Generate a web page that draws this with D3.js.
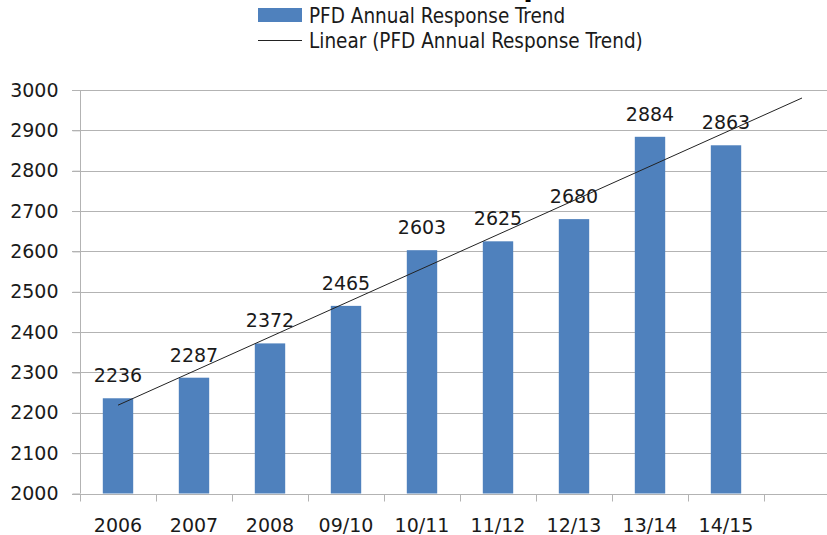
<!DOCTYPE html>
<html><head><meta charset="utf-8">
<script src="https://cdn.jsdelivr.net/npm/d3@7"></script>
<style>
html,body{margin:0;padding:0;background:#fff;}
svg{display:block;}
</style></head>
<body>
<svg id="chart" width="827" height="535"></svg>
<script>
const categories = ["2006","2007","2008","09/10","10/11","11/12","12/13","13/14","14/15"];
const values = [2236,2287,2372,2465,2603,2625,2680,2884,2863];
const yTicks = [2000,2100,2200,2300,2400,2500,2600,2700,2800,2900,3000];
const seriesName = "PFD Annual Response Trend";
const trendName = "Linear (PFD Annual Response Trend)";
const forecastPeriods = 1;

const svg = d3.select("#chart");
const font = "'DejaVu Sans', sans-serif";
const legendFont = "'DejaVu Sans Condensed', sans-serif";
const gridColor = "#b3b3b3";
const barColor = "#4f81bd";
const textColor = "#1a1a1a";

const slots = categories.concat(d3.range(forecastPeriods).map((d,i)=>"__f"+i));
const x = d3.scaleBand().domain(slots).range([80, 840]).paddingInner(0.6).paddingOuter(0.3);
const step = x.step();
const y = d3.scaleLinear().domain([2000, 3000]).range([493.5, 90]);

// title (mostly cut off at the top)
svg.append("text").attr("x", 466).attr("y", -4).attr("font-family", font)
  .attr("font-weight", "bold").attr("font-size", 28).attr("fill", "#000").text("Response");

// gridlines
svg.append("g").selectAll("line").data(yTicks.slice(1)).join("line")
  .attr("x1", 72).attr("x2", 840).attr("y1", d => Math.round(y(d)) + 0.5).attr("y2", d => Math.round(y(d)) + 0.5)
  .attr("stroke", gridColor).attr("stroke-width", 1);

// y axis
const yAxis = svg.append("g").attr("transform", "translate(80.5,0)")
  .call(d3.axisLeft(y).tickValues(yTicks).tickSize(8).tickPadding(14).tickFormat(d3.format("d")));
yAxis.select(".domain").attr("stroke", gridColor).attr("d", `M0,${y(3000)}V${y(2000)}`);
yAxis.selectAll(".tick line").attr("stroke", gridColor);
yAxis.selectAll(".tick text").attr("font-family", font).attr("font-size", 19).attr("fill", textColor);

// x axis
const xg = svg.append("g").attr("transform", `translate(0,${Math.round(y(2000)) + 0.5})`);
xg.append("line").attr("x1", 72).attr("x2", 840).attr("stroke", gridColor);
const boundaries = d3.range(slots.length + 1).map(i => 80 + i * step);
xg.selectAll("line.t").data(boundaries).join("line").attr("class", "t")
  .attr("x1", d => Math.round(d) + 0.5).attr("x2", d => Math.round(d) + 0.5)
  .attr("y1", 0).attr("y2", 7).attr("stroke", gridColor);
xg.selectAll("text").data(categories).join("text")
  .attr("x", d => x(d) + x.bandwidth() / 2).attr("y", 37)
  .attr("text-anchor", "middle").attr("font-family", font).attr("font-size", 19).attr("fill", textColor)
  .text(d => d);

// bars
svg.append("g").selectAll("rect").data(values).join("rect")
  .attr("x", (d, i) => x(categories[i])).attr("width", x.bandwidth())
  .attr("y", d => y(d)).attr("height", d => y(2000) - y(d))
  .attr("fill", barColor);

// data labels
svg.append("g").selectAll("text").data(values).join("text")
  .attr("x", (d, i) => x(categories[i]) + x.bandwidth() / 2).attr("y", d => y(d) - 16)
  .attr("text-anchor", "middle").attr("font-family", font).attr("font-size", 19).attr("fill", textColor)
  .text(d => d);

// linear trend (least squares on the series)
const xs = values.map((d, i) => i + 1);
const mx = d3.mean(xs), my = d3.mean(values);
const slope = d3.sum(xs, (xi, i) => (xi - mx) * (values[i] - my)) / d3.sum(xs, xi => (xi - mx) ** 2);
const icpt = my - slope * mx;
const p0 = 1, p1 = categories.length + forecastPeriods;
svg.append("line")
  .attr("x1", x(slots[p0 - 1]) + x.bandwidth() / 2).attr("y1", y(icpt + slope * p0))
  .attr("x2", x(slots[p1 - 1]) + x.bandwidth() / 2).attr("y2", y(icpt + slope * p1))
  .attr("stroke", "#222").attr("stroke-width", 1);

// legend
const lg = svg.append("g");
lg.append("rect").attr("x", 258).attr("y", 8).attr("width", 44).attr("height", 14).attr("fill", barColor);
lg.append("text").attr("x", 309).attr("y", 23).attr("font-family", legendFont)
  .attr("font-size", 20.5).attr("fill", textColor).text(seriesName);
lg.append("line").attr("x1", 258).attr("x2", 302).attr("y1", 40.5).attr("y2", 40.5).attr("stroke", "#222");
lg.append("text").attr("x", 309).attr("y", 48).attr("font-family", legendFont)
  .attr("font-size", 20.5).attr("fill", textColor).text(trendName);
</script>
</body></html>
